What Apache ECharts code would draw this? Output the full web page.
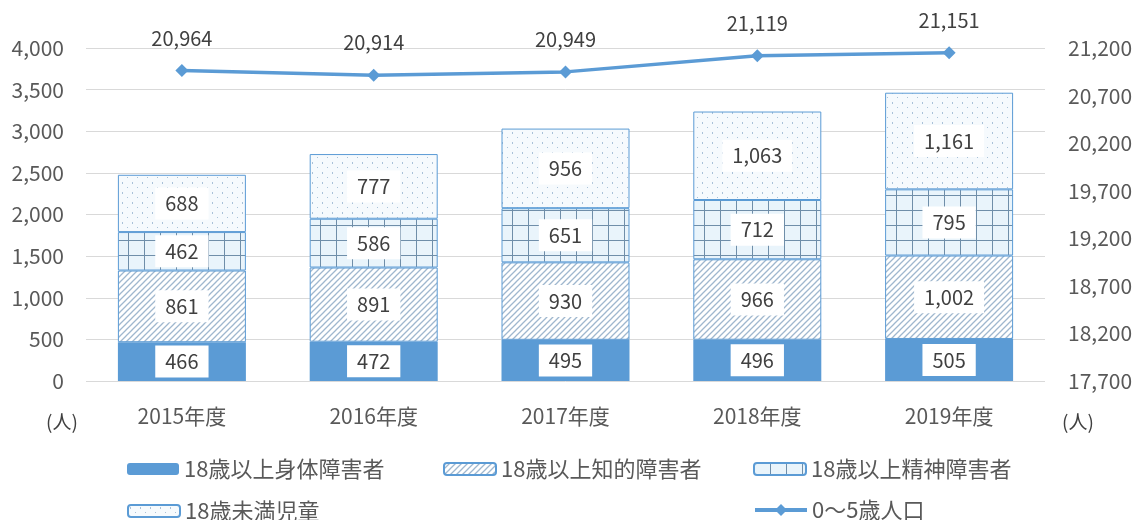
<!DOCTYPE html>
<html>
<head>
<meta charset="utf-8">
<script src="https://cdn.jsdelivr.net/npm/echarts@6/dist/echarts.min.js"></script>
<style>
  html, body { margin: 0; padding: 0; background: #ffffff; }
  #chart { width: 1142px; height: 520px; }
</style>
</head>
<body>
<div id="chart"></div>
<script>
// Data
const years = ['2015年度', '2016年度', '2017年度', '2018年度', '2019年度'];
const physical = [466, 472, 495, 496, 505];
const intellectual = [861, 891, 930, 966, 1002];
const mental = [462, 586, 651, 712, 795];
const children = [688, 777, 956, 1063, 1161];
const population = [20964, 20914, 20949, 21119, 21151];

const totals = years.map((_, i) => physical[i] + intellectual[i] + mental[i] + children[i]);

const FONT = '"Noto Sans CJK JP", "Noto Sans", sans-serif';
const BLUE = '#5B9BD5';

// pattern helpers
function makeCanvas(w, h, draw) {
  const c = document.createElement('canvas');
  c.width = w; c.height = h;
  draw(c.getContext('2d'), w, h);
  return c;
}

const hatch = makeCanvas(6, 6, (ctx, w, h) => {
  ctx.fillStyle = '#ffffff';
  ctx.fillRect(0, 0, w, h);
  ctx.strokeStyle = '#9FB7CE';
  ctx.lineWidth = 1.3;
  ctx.beginPath();
  ctx.moveTo(-1, h + 1); ctx.lineTo(w + 1, -1);
  ctx.moveTo(-1, 1); ctx.lineTo(1, -1);
  ctx.moveTo(w - 1, h + 1); ctx.lineTo(w + 1, h - 1);
  ctx.stroke();
});

const gridPat = makeCanvas(16, 15, (ctx, w, h) => {
  ctx.fillStyle = '#E9F4FB';
  ctx.fillRect(0, 0, w, h);
  ctx.fillStyle = '#6F8EA9';
  ctx.fillRect(0, 0, 1, h);
  ctx.fillRect(0, 0, w, 1);
});

const dots = makeCanvas(10, 10, (ctx, w, h) => {
  ctx.fillStyle = '#F6FAFD';
  ctx.fillRect(0, 0, w, h);
  ctx.fillStyle = '#A9C1D8';
  ctx.fillRect(2, 2, 1, 2);
  ctx.fillRect(7, 7, 1, 1);
});

const numFmt = p => Number(p.value).toLocaleString('en-US');

const innerLabel = {
  show: true,
  position: 'inside',
  formatter: numFmt,
  color: '#404040',
  fontSize: 20,
  fontFamily: FONT,
  backgroundColor: '#ffffff',
  padding: [7, 10, 5, 10]
};

// one legend per item, laid out like the reference's 3-column grid
function legendAt(left, top, name, h) {
  return {
    left: left, top: top,
    itemWidth: 52, itemHeight: h || 12, itemGap: 0,
    textStyle: { fontSize: 22, color: '#595959', fontFamily: FONT },
    lineStyle: { width: 4 },
    data: [name]
  };
}

const chart = echarts.init(document.getElementById('chart'));

const option = {
  backgroundColor: '#ffffff',
  animation: false,
  textStyle: { fontFamily: FONT },
  grid: { left: 86, right: 97, top: 48, bottom: 139 },
  legend: [
    legendAt(122, 453, '18歳以上身体障害者'),
    legendAt(438, 453, '18歳以上知的障害者'),
    legendAt(748, 453, '18歳以上精神障害者'),
    legendAt(122, 495, '18歳未満児童'),
    legendAt(748, 494, '0～5歳人口', 15)
  ],
  xAxis: {
    type: 'category',
    data: years,
    axisLine: { show: false },
    axisTick: { show: false },
    axisLabel: { color: '#595959', fontSize: 21, margin: 25, fontFamily: FONT }
  },
  yAxis: [
    {
      type: 'value',
      min: 0, max: 4000, interval: 500,
      axisLine: { show: false },
      axisTick: { show: false },
      axisLabel: {
        color: '#595959', fontSize: 21, margin: 22, fontFamily: FONT,
        formatter: v => v.toLocaleString('en-US')
      },
      splitLine: { lineStyle: { color: '#D9D9D9', width: 1 } }
    },
    {
      type: 'value',
      min: 17700, max: 21200, interval: 500,
      axisLine: { show: false },
      axisTick: { show: false },
      axisLabel: {
        color: '#595959', fontSize: 21, margin: 23, fontFamily: FONT,
        formatter: v => v.toLocaleString('en-US')
      },
      splitLine: { show: false }
    }
  ],
  series: [
    {
      name: '18歳以上身体障害者',
      type: 'bar', stack: 'total', barWidth: 128,
      data: physical,
      itemStyle: { color: BLUE },
      label: innerLabel
    },
    {
      name: '18歳以上知的障害者',
      type: 'bar', stack: 'total', barWidth: 128,
      data: intellectual,
      itemStyle: { color: { image: hatch, repeat: 'repeat' }, borderColor: BLUE, borderWidth: 1 },
      label: innerLabel
    },
    {
      name: '18歳以上精神障害者',
      type: 'bar', stack: 'total', barWidth: 128,
      data: mental,
      itemStyle: { color: { image: gridPat, repeat: 'repeat' }, borderColor: BLUE, borderWidth: 1 },
      label: innerLabel
    },
    {
      name: '18歳未満児童',
      type: 'bar', stack: 'total', barWidth: 128,
      data: children,
      itemStyle: { color: { image: dots, repeat: 'repeat' }, borderColor: BLUE, borderWidth: 1 },
      label: innerLabel
    },
    {
      name: '合計',
      type: 'line',
      data: totals,
      symbol: 'none',
      lineStyle: { opacity: 0 },
      label: {
        show: true, position: 'top', distance: 15,
        formatter: numFmt, color: '#404040', fontSize: 20, fontFamily: FONT
      },
      z: 5
    },
    {
      name: '0～5歳人口',
      type: 'line',
      yAxisIndex: 1,
      data: population,
      symbol: 'diamond',
      symbolSize: 13,
      itemStyle: { color: BLUE },
      lineStyle: { color: BLUE, width: 3.5 },
      label: {
        show: true, position: 'top', distance: 16,
        formatter: numFmt, color: '#404040', fontSize: 20, fontFamily: FONT
      },
      z: 6
    }
  ],
  graphic: [
    { type: 'text', left: 46, top: 412, style: { text: '(人)', fill: '#404040', font: '19px ' + FONT } },
    { type: 'text', left: 1062, top: 412, style: { text: '(人)', fill: '#404040', font: '19px ' + FONT } }
  ]
};

chart.setOption(option);
</script>
</body>
</html>
